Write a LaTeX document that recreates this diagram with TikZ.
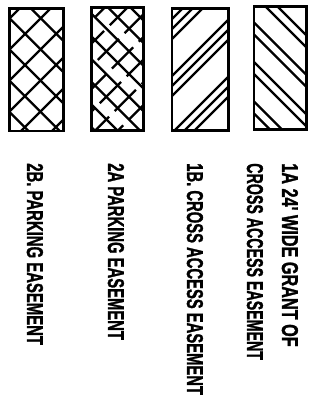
\documentclass[tikz,border=0pt]{standalone}
\usepackage{fontspec}
\setmainfont{Liberation Sans}
\newfontfamily\legfont[BoldFont={Liberation Sans Bold}, BoldFeatures={FakeBold=1.6}]{Liberation Sans}
\usepackage{graphicx}
\tikzset{
  boxframe/.style={draw=black, line width=2.7pt},
  hatchline/.style={draw=black, line width=2.3pt},
  legendtext/.style={anchor=base west, rotate=-90, inner sep=0pt, outer sep=0pt},
}
\newcommand{\legtxt}[3]{\resizebox{#1pt}{#2pt}{\legfont\bfseries #3}}
\begin{document}
\begin{tikzpicture}[x=1pt,y=-1pt]
\useasboundingbox (0,0) rectangle (322,401);
% ---- box 2B : square cross-hatch
\begin{scope}
  \clip (9.7,8.3) rectangle (63.3,131);
  \foreach \k in {-3,...,4} {
    \pgfmathsetmacro\hc{40+31.3*\k}
    \draw[hatchline] (0,\hc) -- (75,75+\hc);
  }
  \foreach \k in {-3,...,4} {
    \pgfmathsetmacro\hc{90+31*\k}
    \draw[hatchline] (0,\hc) -- (75,\hc-75);
  }
\end{scope}
\draw[boxframe] (9.7,8.3) rectangle (63.3,131);
% ---- box 2A : broken cross-hatch
\begin{scope}
  \clip (91.7,7.8) rectangle (143.5,130.5);
  \foreach \k in {-4,...,4} {
    \pgfmathsetmacro\hc{-55+22.7*\k}
    \draw[hatchline] (85,85+\hc) -- (150,150+\hc);
  }
  \foreach \k in {-2,...,6} {
    \pgfmathsetmacro\hc{135+22.7*\k}
    \pgfmathsetmacro\ph{mod(\k*17+40,37)}
    \draw[hatchline, dash pattern=on 30pt off 8pt, dash phase=\ph pt] (85,\hc-85) -- (150,\hc-150);
  }
\end{scope}
\draw[boxframe] (91.7,7.8) rectangle (143.5,130.5);
% ---- box 1B : triple diagonal lines
\begin{scope}
  \clip (172,8.5) rectangle (228.5,130.8);
  \foreach \m in {0,1,2} {
    \foreach \j in {0,1,2} {
      \pgfmathsetmacro\hc{191+57*\m+10*\j}
      \draw[hatchline] (165,\hc-165) -- (235,\hc-235);
    }
  }
\end{scope}
\draw[boxframe] (172,8.5) rectangle (228.5,130.8);
% ---- box 1A : paired diagonal lines
\begin{scope}
  \clip (254,6.8) rectangle (306.7,129.5);
  \foreach \k in {-1,...,3} {
    \foreach \j in {0,1} {
      \pgfmathsetmacro\hc{-271+39.5*\k+12*\j}
      \draw[hatchline] (245,245+\hc) -- (315,315+\hc);
    }
  }
\end{scope}
\draw[boxframe] (254,6.8) rectangle (306.7,129.5);
% ---- labels
\node[legendtext] (t2b) at (27,163.3) {\legtxt{181.7}{16}{2B. PARKING EASEMENT}};
\node[legendtext] (t2a) at (108,163.3) {\legtxt{176.7}{16}{2A PARKING EASEMENT}};
\node[legendtext] (t1b) at (187,163.3) {\legtxt{231.7}{16}{1B. CROSS ACCESS EASEMENT}};
\node[legendtext] (t1a2) at (247,163.3) {\legtxt{196.7}{16}{CROSS ACCESS EASEMENT}};
\node[legendtext] (t1a1) at (282,163.3) {\legtxt{183.4}{16}{1A 24' WIDE GRANT OF}};
\end{tikzpicture}
\end{document}
